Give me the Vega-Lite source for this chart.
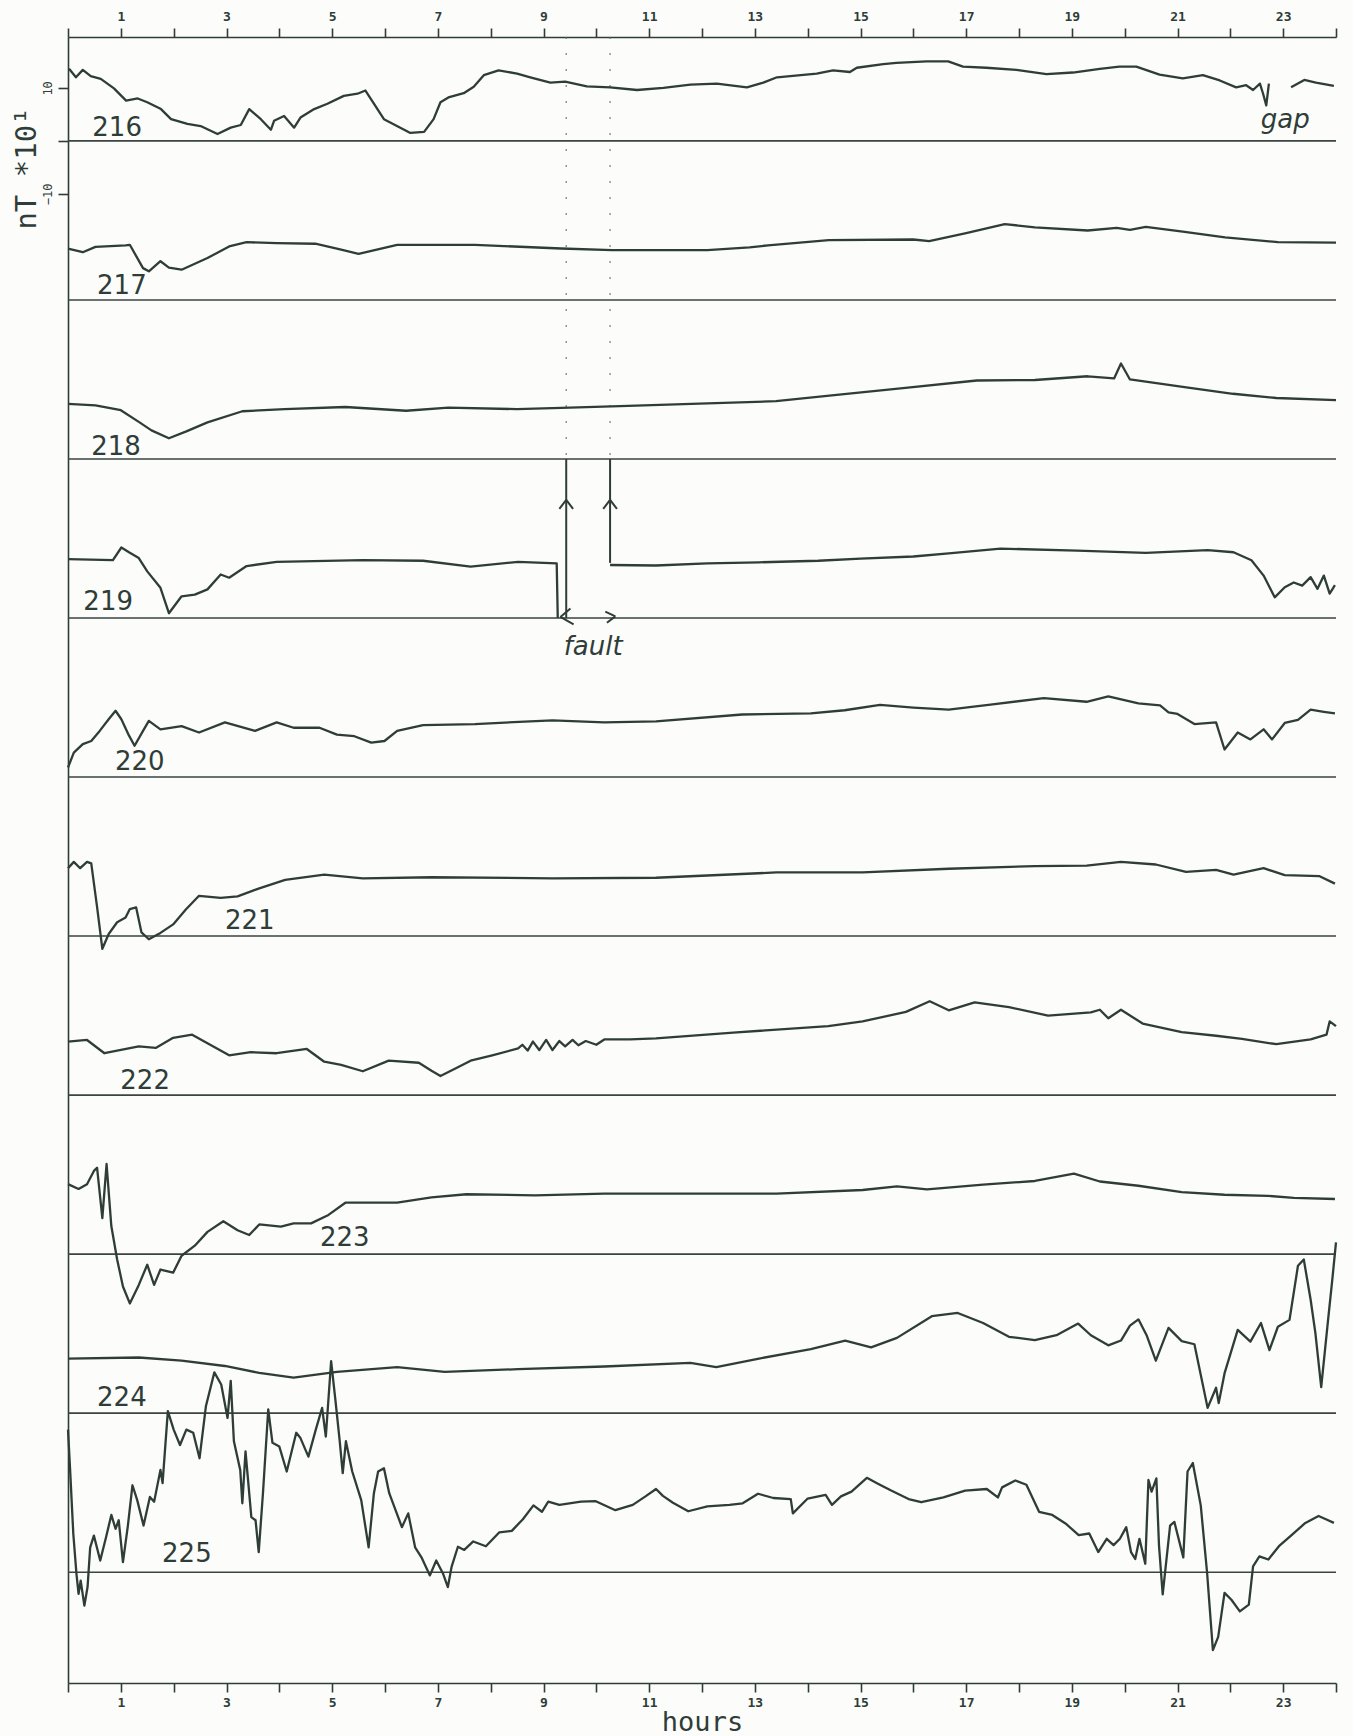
{
  "$schema": "https://vega.github.io/schema/vega-lite/v6.json",
  "autosize": {"type": "none"},
  "padding": {"left": 68, "top": 37, "right": 17, "bottom": 53},
  "width": 1268,
  "height": 1646,
  "background": "#fcfcfa",
  "config": {"view": {"stroke": null}},
  "datasets": {
    "traces": [
      {"s":"216a","h":0.02,"u":13.6},{"s":"216a","h":0.15,"u":12.0},{"s":"216a","h":0.28,"u":13.4},{"s":"216a","h":0.43,"u":12.2},{"s":"216a","h":0.62,"u":11.7},{"s":"216a","h":0.87,"u":9.9},{"s":"216a","h":1.1,"u":7.6},{"s":"216a","h":1.32,"u":8.0},{"s":"216a","h":1.5,"u":7.3},{"s":"216a","h":1.76,"u":6.0},{"s":"216a","h":1.95,"u":4.1},{"s":"216a","h":2.26,"u":3.2},{"s":"216a","h":2.51,"u":2.8},{"s":"216a","h":2.83,"u":1.3},{"s":"216a","h":3.08,"u":2.5},{"s":"216a","h":3.27,"u":3.0},{"s":"216a","h":3.43,"u":6.0},{"s":"216a","h":3.65,"u":4.1},{"s":"216a","h":3.84,"u":2.1},{"s":"216a","h":3.9,"u":3.8},{"s":"216a","h":4.09,"u":4.7},{"s":"216a","h":4.28,"u":2.5},{"s":"216a","h":4.4,"u":4.4},{"s":"216a","h":4.66,"u":6.0},{"s":"216a","h":4.91,"u":7.0},{"s":"216a","h":5.22,"u":8.5},{"s":"216a","h":5.48,"u":8.9},{"s":"216a","h":5.63,"u":9.5},{"s":"216a","h":5.98,"u":4.1},{"s":"216a","h":6.29,"u":2.5},{"s":"216a","h":6.48,"u":1.5},{"s":"216a","h":6.74,"u":1.7},{"s":"216a","h":6.92,"u":4.1},{"s":"216a","h":7.05,"u":7.3},{"s":"216a","h":7.2,"u":8.2},{"s":"216a","h":7.49,"u":9.0},{"s":"216a","h":7.68,"u":10.2},{"s":"216a","h":7.87,"u":12.4},{"s":"216a","h":8.15,"u":13.3},{"s":"216a","h":8.5,"u":12.7},{"s":"216a","h":8.75,"u":12.0},{"s":"216a","h":9.13,"u":11.0},{"s":"216a","h":9.41,"u":11.2},{"s":"216a","h":9.82,"u":10.3},{"s":"216a","h":10.26,"u":10.1},{"s":"216a","h":10.77,"u":9.6},{"s":"216a","h":11.27,"u":10.0},{"s":"216a","h":11.78,"u":10.6},{"s":"216a","h":12.28,"u":10.8},{"s":"216a","h":12.85,"u":10.1},{"s":"216a","h":13.16,"u":11.0},{"s":"216a","h":13.42,"u":12.0},{"s":"216a","h":14.17,"u":12.7},{"s":"216a","h":14.48,"u":13.3},{"s":"216a","h":14.8,"u":13.0},{"s":"216a","h":14.93,"u":13.8},{"s":"216a","h":15.43,"u":14.5},{"s":"216a","h":15.68,"u":14.7},{"s":"216a","h":16.25,"u":15.0},{"s":"216a","h":16.66,"u":15.0},{"s":"216a","h":16.94,"u":14.0},{"s":"216a","h":17.38,"u":13.8},{"s":"216a","h":17.95,"u":13.4},{"s":"216a","h":18.52,"u":12.6},{"s":"216a","h":19.02,"u":12.9},{"s":"216a","h":19.53,"u":13.6},{"s":"216a","h":19.9,"u":14.0},{"s":"216a","h":20.22,"u":14.0},{"s":"216a","h":20.66,"u":12.5},{"s":"216a","h":21.1,"u":11.8},{"s":"216a","h":21.48,"u":12.4},{"s":"216a","h":21.8,"u":11.4},{"s":"216a","h":22.11,"u":10.1},{"s":"216a","h":22.3,"u":10.5},{"s":"216a","h":22.43,"u":9.6},{"s":"216a","h":22.56,"u":10.8},{"s":"216a","h":22.62,"u":8.9},{"s":"216a","h":22.68,"u":6.7},{"s":"216a","h":22.73,"u":10.8},
      {"s":"216b","h":23.15,"u":10.1},{"s":"216b","h":23.4,"u":11.5},{"s":"216b","h":23.62,"u":11.0},{"s":"216b","h":23.96,"u":10.4},
      {"s":"217","h":0,"u":-20.3},{"s":"217","h":0.28,"u":-21.0},{"s":"217","h":0.52,"u":-20.0},{"s":"217","h":1.09,"u":-19.7},{"s":"217","h":1.17,"u":-19.6},{"s":"217","h":1.42,"u":-24.0},{"s":"217","h":1.53,"u":-24.6},{"s":"217","h":1.75,"u":-22.7},{"s":"217","h":1.91,"u":-23.9},{"s":"217","h":2.15,"u":-24.3},{"s":"217","h":2.64,"u":-22.1},{"s":"217","h":3.05,"u":-19.9},{"s":"217","h":3.38,"u":-19.1},{"s":"217","h":3.95,"u":-19.3},{"s":"217","h":4.68,"u":-19.4},{"s":"217","h":5.17,"u":-20.5},{"s":"217","h":5.5,"u":-21.3},{"s":"217","h":6.23,"u":-19.6},{"s":"217","h":7.7,"u":-19.6},{"s":"217","h":9.33,"u":-20.3},{"s":"217","h":10.3,"u":-20.6},{"s":"217","h":12.1,"u":-20.6},{"s":"217","h":12.9,"u":-20.1},{"s":"217","h":13.25,"u":-19.7},{"s":"217","h":14.4,"u":-18.7},{"s":"217","h":16.0,"u":-18.6},{"s":"217","h":16.3,"u":-18.9},{"s":"217","h":17.0,"u":-17.4},{"s":"217","h":17.73,"u":-15.7},{"s":"217","h":18.3,"u":-16.3},{"s":"217","h":19.3,"u":-16.9},{"s":"217","h":19.85,"u":-16.4},{"s":"217","h":20.1,"u":-16.8},{"s":"217","h":20.4,"u":-16.2},{"s":"217","h":21.1,"u":-17.1},{"s":"217","h":21.9,"u":-18.2},{"s":"217","h":22.9,"u":-19.1},{"s":"217","h":24,"u":-19.2},
      {"s":"218","h":0,"u":-49.6},{"s":"218","h":0.52,"u":-49.9},{"s":"218","h":1.0,"u":-50.8},{"s":"218","h":1.34,"u":-53.0},{"s":"218","h":1.58,"u":-54.6},{"s":"218","h":1.91,"u":-56.1},{"s":"218","h":2.24,"u":-54.8},{"s":"218","h":2.64,"u":-53.1},{"s":"218","h":3.3,"u":-51.0},{"s":"218","h":4.1,"u":-50.6},{"s":"218","h":5.25,"u":-50.2},{"s":"218","h":6.4,"u":-50.9},{"s":"218","h":7.2,"u":-50.3},{"s":"218","h":8.5,"u":-50.6},{"s":"218","h":9.5,"u":-50.3},{"s":"218","h":10.6,"u":-50.0},{"s":"218","h":11.8,"u":-49.6},{"s":"218","h":13.4,"u":-49.1},{"s":"218","h":14.55,"u":-47.9},{"s":"218","h":15.85,"u":-46.6},{"s":"218","h":17.2,"u":-45.2},{"s":"218","h":18.3,"u":-45.1},{"s":"218","h":19.3,"u":-44.4},{"s":"218","h":19.8,"u":-44.8},{"s":"218","h":19.93,"u":-42.0},{"s":"218","h":20.1,"u":-45.0},{"s":"218","h":21.1,"u":-46.4},{"s":"218","h":22.05,"u":-47.7},{"s":"218","h":22.87,"u":-48.5},{"s":"218","h":24,"u":-48.9},
      {"s":"219a","h":0,"u":-78.9},{"s":"219a","h":0.85,"u":-79.1},{"s":"219a","h":1.01,"u":-76.7},{"s":"219a","h":1.17,"u":-77.7},{"s":"219a","h":1.34,"u":-78.7},{"s":"219a","h":1.5,"u":-81.2},{"s":"219a","h":1.75,"u":-84.3},{"s":"219a","h":1.91,"u":-89.1},{"s":"219a","h":2.15,"u":-85.9},{"s":"219a","h":2.4,"u":-85.6},{"s":"219a","h":2.64,"u":-84.6},{"s":"219a","h":2.89,"u":-81.8},{"s":"219a","h":3.05,"u":-82.4},{"s":"219a","h":3.38,"u":-80.2},{"s":"219a","h":3.95,"u":-79.4},{"s":"219a","h":5.58,"u":-79.1},{"s":"219a","h":6.72,"u":-79.2},{"s":"219a","h":7.62,"u":-80.3},{"s":"219a","h":8.52,"u":-79.4},{"s":"219a","h":9.25,"u":-79.7},{"s":"219a","h":9.27,"u":-90.0},
      {"s":"219b","h":10.26,"u":-80.0},{"s":"219b","h":11.13,"u":-80.1},{"s":"219b","h":12.1,"u":-79.7},{"s":"219b","h":13.08,"u":-79.5},{"s":"219b","h":14.2,"u":-79.2},{"s":"219b","h":15.0,"u":-78.8},{"s":"219b","h":16.0,"u":-78.4},{"s":"219b","h":16.67,"u":-77.8},{"s":"219b","h":17.65,"u":-76.9},{"s":"219b","h":19.1,"u":-77.3},{"s":"219b","h":20.4,"u":-77.7},{"s":"219b","h":21.57,"u":-77.2},{"s":"219b","h":22.06,"u":-77.6},{"s":"219b","h":22.4,"u":-79.1},{"s":"219b","h":22.63,"u":-82.0},{"s":"219b","h":22.84,"u":-86.1},{"s":"219b","h":23.03,"u":-84.2},{"s":"219b","h":23.2,"u":-83.3},{"s":"219b","h":23.36,"u":-83.9},{"s":"219b","h":23.52,"u":-82.3},{"s":"219b","h":23.65,"u":-84.5},{"s":"219b","h":23.77,"u":-82.0},{"s":"219b","h":23.88,"u":-85.4},{"s":"219b","h":23.98,"u":-83.8},
      {"s":"220","h":0,"u":-118.2},{"s":"220","h":0.11,"u":-115.4},{"s":"220","h":0.28,"u":-113.8},{"s":"220","h":0.44,"u":-113.2},{"s":"220","h":0.6,"u":-111.3},{"s":"220","h":0.77,"u":-109.1},{"s":"220","h":0.9,"u":-107.5},{"s":"220","h":1.01,"u":-109.1},{"s":"220","h":1.14,"u":-111.9},{"s":"220","h":1.26,"u":-114.1},{"s":"220","h":1.42,"u":-111.3},{"s":"220","h":1.53,"u":-109.4},{"s":"220","h":1.75,"u":-111.0},{"s":"220","h":2.15,"u":-110.4},{"s":"220","h":2.48,"u":-111.6},{"s":"220","h":2.97,"u":-109.7},{"s":"220","h":3.54,"u":-111.3},{"s":"220","h":3.95,"u":-109.7},{"s":"220","h":4.27,"u":-110.7},{"s":"220","h":4.76,"u":-110.7},{"s":"220","h":5.09,"u":-112.0},{"s":"220","h":5.42,"u":-112.3},{"s":"220","h":5.74,"u":-113.5},{"s":"220","h":5.99,"u":-113.2},{"s":"220","h":6.23,"u":-111.3},{"s":"220","h":6.72,"u":-110.2},{"s":"220","h":7.7,"u":-110.0},{"s":"220","h":9.17,"u":-109.3},{"s":"220","h":10.15,"u":-109.7},{"s":"220","h":11.13,"u":-109.5},{"s":"220","h":12.76,"u":-108.2},{"s":"220","h":14.06,"u":-108.0},{"s":"220","h":14.7,"u":-107.4},{"s":"220","h":15.37,"u":-106.4},{"s":"220","h":16.0,"u":-106.9},{"s":"220","h":16.67,"u":-107.3},{"s":"220","h":17.5,"u":-106.3},{"s":"220","h":18.47,"u":-105.1},{"s":"220","h":19.28,"u":-105.8},{"s":"220","h":19.69,"u":-104.8},{"s":"220","h":20.26,"u":-106.1},{"s":"220","h":20.67,"u":-106.5},{"s":"220","h":20.83,"u":-107.8},{"s":"220","h":21.0,"u":-108.1},{"s":"220","h":21.32,"u":-110.0},{"s":"220","h":21.73,"u":-109.7},{"s":"220","h":21.89,"u":-114.8},{"s":"220","h":22.14,"u":-111.6},{"s":"220","h":22.38,"u":-112.9},{"s":"220","h":22.63,"u":-111.0},{"s":"220","h":22.79,"u":-112.9},{"s":"220","h":23.03,"u":-109.8},{"s":"220","h":23.28,"u":-109.2},{"s":"220","h":23.52,"u":-107.3},{"s":"220","h":23.77,"u":-107.7},{"s":"220","h":23.98,"u":-108.0},
      {"s":"221","h":0,"u":-137.2},{"s":"221","h":0.11,"u":-136.0},{"s":"221","h":0.23,"u":-137.2},{"s":"221","h":0.36,"u":-136.0},{"s":"221","h":0.44,"u":-136.3},{"s":"221","h":0.55,"u":-144.5},{"s":"221","h":0.65,"u":-152.4},{"s":"221","h":0.77,"u":-149.6},{"s":"221","h":0.93,"u":-147.4},{"s":"221","h":1.09,"u":-146.5},{"s":"221","h":1.17,"u":-144.9},{"s":"221","h":1.29,"u":-144.6},{"s":"221","h":1.39,"u":-149.3},{"s":"221","h":1.53,"u":-150.6},{"s":"221","h":1.75,"u":-149.4},{"s":"221","h":1.99,"u":-147.8},{"s":"221","h":2.23,"u":-145.0},{"s":"221","h":2.48,"u":-142.4},{"s":"221","h":2.89,"u":-142.8},{"s":"221","h":3.21,"u":-142.5},{"s":"221","h":3.62,"u":-141.0},{"s":"221","h":4.11,"u":-139.4},{"s":"221","h":4.85,"u":-138.4},{"s":"221","h":5.58,"u":-139.1},{"s":"221","h":6.88,"u":-138.9},{"s":"221","h":9.17,"u":-139.1},{"s":"221","h":11.13,"u":-139.0},{"s":"221","h":13.41,"u":-138.0},{"s":"221","h":15.04,"u":-138.0},{"s":"221","h":16.67,"u":-137.3},{"s":"221","h":18.3,"u":-136.8},{"s":"221","h":19.28,"u":-136.7},{"s":"221","h":19.93,"u":-136.0},{"s":"221","h":20.59,"u":-136.5},{"s":"221","h":21.16,"u":-137.9},{"s":"221","h":21.73,"u":-137.5},{"s":"221","h":22.06,"u":-138.4},{"s":"221","h":22.63,"u":-137.2},{"s":"221","h":23.03,"u":-138.5},{"s":"221","h":23.69,"u":-138.7},{"s":"221","h":23.98,"u":-140.1},
      {"s":"222","h":0,"u":-169.9},{"s":"222","h":0.36,"u":-169.6},{"s":"222","h":0.69,"u":-172.1},{"s":"222","h":1.34,"u":-170.8},{"s":"222","h":1.66,"u":-171.1},{"s":"222","h":1.99,"u":-169.2},{"s":"222","h":2.35,"u":-168.6},{"s":"222","h":2.64,"u":-170.2},{"s":"222","h":3.05,"u":-172.5},{"s":"222","h":3.46,"u":-171.9},{"s":"222","h":3.95,"u":-172.1},{"s":"222","h":4.52,"u":-171.3},{"s":"222","h":4.85,"u":-173.7},{"s":"222","h":5.17,"u":-174.3},{"s":"222","h":5.58,"u":-175.5},{"s":"222","h":6.07,"u":-173.5},{"s":"222","h":6.64,"u":-173.9},{"s":"222","h":6.88,"u":-175.4},{"s":"222","h":7.05,"u":-176.4},{"s":"222","h":7.37,"u":-174.8},{"s":"222","h":7.62,"u":-173.5},{"s":"222","h":8.03,"u":-172.5},{"s":"222","h":8.52,"u":-171.2},{"s":"222","h":8.6,"u":-170.5},{"s":"222","h":8.7,"u":-171.6},{"s":"222","h":8.8,"u":-169.9},{"s":"222","h":8.92,"u":-171.5},{"s":"222","h":9.05,"u":-169.6},{"s":"222","h":9.17,"u":-171.5},{"s":"222","h":9.3,"u":-169.8},{"s":"222","h":9.41,"u":-170.8},{"s":"222","h":9.55,"u":-169.6},{"s":"222","h":9.66,"u":-170.6},{"s":"222","h":9.8,"u":-169.8},{"s":"222","h":10.0,"u":-170.5},{"s":"222","h":10.15,"u":-169.5},{"s":"222","h":10.64,"u":-169.5},{"s":"222","h":11.13,"u":-169.3},{"s":"222","h":12.59,"u":-168.2},{"s":"222","h":14.39,"u":-167.0},{"s":"222","h":15.04,"u":-166.1},{"s":"222","h":15.86,"u":-164.3},{"s":"222","h":16.31,"u":-162.3},{"s":"222","h":16.67,"u":-164.0},{"s":"222","h":17.16,"u":-162.5},{"s":"222","h":17.81,"u":-163.4},{"s":"222","h":18.55,"u":-165.0},{"s":"222","h":19.36,"u":-164.4},{"s":"222","h":19.53,"u":-163.9},{"s":"222","h":19.69,"u":-165.5},{"s":"222","h":19.93,"u":-163.9},{"s":"222","h":20.34,"u":-166.5},{"s":"222","h":21.08,"u":-168.1},{"s":"222","h":21.73,"u":-168.8},{"s":"222","h":22.22,"u":-169.4},{"s":"222","h":22.87,"u":-170.4},{"s":"222","h":23.52,"u":-169.5},{"s":"222","h":23.82,"u":-168.6},{"s":"222","h":23.88,"u":-166.1},{"s":"222","h":24.0,"u":-167.0},
      {"s":"223","h":0,"u":-196.8},{"s":"223","h":0.2,"u":-197.7},{"s":"223","h":0.36,"u":-196.8},{"s":"223","h":0.49,"u":-194.3},{"s":"223","h":0.55,"u":-193.7},{"s":"223","h":0.65,"u":-203.2},{"s":"223","h":0.73,"u":-193.0},{"s":"223","h":0.82,"u":-204.7},{"s":"223","h":0.93,"u":-211.0},{"s":"223","h":1.04,"u":-216.1},{"s":"223","h":1.17,"u":-219.3},{"s":"223","h":1.34,"u":-215.8},{"s":"223","h":1.5,"u":-212.0},{"s":"223","h":1.63,"u":-215.8},{"s":"223","h":1.75,"u":-212.9},{"s":"223","h":1.99,"u":-213.5},{"s":"223","h":2.15,"u":-210.3},{"s":"223","h":2.4,"u":-208.4},{"s":"223","h":2.64,"u":-205.8},{"s":"223","h":2.94,"u":-203.8},{"s":"223","h":3.21,"u":-205.5},{"s":"223","h":3.43,"u":-206.4},{"s":"223","h":3.62,"u":-204.4},{"s":"223","h":4.03,"u":-204.8},{"s":"223","h":4.27,"u":-204.2},{"s":"223","h":4.6,"u":-204.2},{"s":"223","h":4.93,"u":-202.6},{"s":"223","h":5.25,"u":-200.3},{"s":"223","h":6.23,"u":-200.3},{"s":"223","h":6.88,"u":-199.3},{"s":"223","h":7.54,"u":-198.7},{"s":"223","h":8.84,"u":-198.9},{"s":"223","h":10.15,"u":-198.6},{"s":"223","h":11.78,"u":-198.6},{"s":"223","h":13.41,"u":-198.6},{"s":"223","h":15.04,"u":-197.9},{"s":"223","h":15.69,"u":-197.2},{"s":"223","h":16.26,"u":-197.8},{"s":"223","h":17.32,"u":-196.9},{"s":"223","h":18.3,"u":-196.2},{"s":"223","h":19.04,"u":-194.8},{"s":"223","h":19.53,"u":-196.3},{"s":"223","h":20.26,"u":-197.1},{"s":"223","h":21.08,"u":-198.3},{"s":"223","h":21.89,"u":-198.8},{"s":"223","h":22.71,"u":-199.0},{"s":"223","h":23.2,"u":-199.4},{"s":"223","h":23.98,"u":-199.6},
      {"s":"224","h":0,"u":-229.7},{"s":"224","h":1.34,"u":-229.5},{"s":"224","h":2.15,"u":-230.1},{"s":"224","h":2.97,"u":-231.1},{"s":"224","h":3.62,"u":-232.4},{"s":"224","h":4.27,"u":-233.3},{"s":"224","h":5.09,"u":-232.2},{"s":"224","h":6.23,"u":-231.3},{"s":"224","h":7.13,"u":-232.2},{"s":"224","h":8.52,"u":-231.7},{"s":"224","h":10.15,"u":-231.2},{"s":"224","h":11.78,"u":-230.5},{"s":"224","h":12.27,"u":-231.3},{"s":"224","h":13.08,"u":-229.7},{"s":"224","h":14.06,"u":-227.9},{"s":"224","h":14.71,"u":-226.3},{"s":"224","h":15.2,"u":-227.6},{"s":"224","h":15.69,"u":-225.8},{"s":"224","h":16.35,"u":-221.7},{"s":"224","h":16.84,"u":-221.1},{"s":"224","h":17.32,"u":-223.0},{"s":"224","h":17.81,"u":-225.6},{"s":"224","h":18.3,"u":-226.2},{"s":"224","h":18.71,"u":-225.3},{"s":"224","h":19.12,"u":-223.1},{"s":"224","h":19.36,"u":-225.3},{"s":"224","h":19.69,"u":-227.2},{"s":"224","h":19.93,"u":-226.3},{"s":"224","h":20.1,"u":-223.5},{"s":"224","h":20.26,"u":-222.3},{"s":"224","h":20.42,"u":-225.4},{"s":"224","h":20.59,"u":-230.1},{"s":"224","h":20.83,"u":-223.9},{"s":"224","h":21.08,"u":-226.4},{"s":"224","h":21.32,"u":-227.0},{"s":"224","h":21.57,"u":-239.0},{"s":"224","h":21.73,"u":-235.2},{"s":"224","h":21.78,"u":-238.1},{"s":"224","h":21.89,"u":-232.5},{"s":"224","h":22.14,"u":-224.3},{"s":"224","h":22.38,"u":-226.5},{"s":"224","h":22.58,"u":-223.0},{"s":"224","h":22.74,"u":-228.1},{"s":"224","h":22.9,"u":-223.7},{"s":"224","h":23.12,"u":-222.4},{"s":"224","h":23.28,"u":-212.2},{"s":"224","h":23.39,"u":-211.0},{"s":"224","h":23.52,"u":-218.6},{"s":"224","h":23.61,"u":-224.9},{"s":"224","h":23.72,"u":-235.1},{"s":"224","h":23.85,"u":-222.4},{"s":"224","h":23.93,"u":-214.8},{"s":"224","h":24.0,"u":-207.8},
      {"s":"225","h":0,"u":-243.1},{"s":"225","h":0.04,"u":-250.7},{"s":"225","h":0.1,"u":-262.7},{"s":"225","h":0.16,"u":-270.3},{"s":"225","h":0.2,"u":-274.1},{"s":"225","h":0.24,"u":-271.6},{"s":"225","h":0.31,"u":-276.3},{"s":"225","h":0.37,"u":-272.8},{"s":"225","h":0.42,"u":-265.3},{"s":"225","h":0.49,"u":-263.1},{"s":"225","h":0.61,"u":-267.8},{"s":"225","h":0.72,"u":-263.4},{"s":"225","h":0.82,"u":-259.2},{"s":"225","h":0.9,"u":-261.8},{"s":"225","h":0.96,"u":-260.2},{"s":"225","h":1.04,"u":-268.1},{"s":"225","h":1.13,"u":-261.5},{"s":"225","h":1.22,"u":-253.6},{"s":"225","h":1.31,"u":-256.4},{"s":"225","h":1.43,"u":-261.2},{"s":"225","h":1.55,"u":-255.8},{"s":"225","h":1.63,"u":-256.7},{"s":"225","h":1.75,"u":-250.7},{"s":"225","h":1.79,"u":-253.2},{"s":"225","h":1.89,"u":-239.6},{"s":"225","h":2.0,"u":-243.1},{"s":"225","h":2.12,"u":-246.0},{"s":"225","h":2.24,"u":-243.1},{"s":"225","h":2.37,"u":-243.7},{"s":"225","h":2.49,"u":-248.5},{"s":"225","h":2.61,"u":-238.7},{"s":"225","h":2.77,"u":-232.3},{"s":"225","h":2.9,"u":-234.6},{"s":"225","h":3.02,"u":-240.9},{"s":"225","h":3.08,"u":-233.9},{"s":"225","h":3.14,"u":-245.3},{"s":"225","h":3.26,"u":-250.7},{"s":"225","h":3.3,"u":-257.0},{"s":"225","h":3.36,"u":-247.2},{"s":"225","h":3.47,"u":-259.6},{"s":"225","h":3.55,"u":-260.2},{"s":"225","h":3.61,"u":-266.2},{"s":"225","h":3.69,"u":-255.1},{"s":"225","h":3.79,"u":-239.3},{"s":"225","h":3.87,"u":-245.6},{"s":"225","h":4.0,"u":-246.3},{"s":"225","h":4.14,"u":-251.0},{"s":"225","h":4.32,"u":-243.7},{"s":"225","h":4.4,"u":-244.7},{"s":"225","h":4.55,"u":-248.2},{"s":"225","h":4.69,"u":-243.1},{"s":"225","h":4.81,"u":-239.0},{"s":"225","h":4.88,"u":-244.4},{"s":"225","h":4.98,"u":-230.2},{"s":"225","h":5.06,"u":-237.4},{"s":"225","h":5.14,"u":-245.0},{"s":"225","h":5.2,"u":-251.3},{"s":"225","h":5.26,"u":-245.3},{"s":"225","h":5.38,"u":-251.0},{"s":"225","h":5.55,"u":-256.4},{"s":"225","h":5.69,"u":-265.3},{"s":"225","h":5.79,"u":-255.1},{"s":"225","h":5.87,"u":-251.0},{"s":"225","h":5.98,"u":-250.4},{"s":"225","h":6.08,"u":-255.1},{"s":"225","h":6.2,"u":-258.3},{"s":"225","h":6.32,"u":-261.5},{"s":"225","h":6.44,"u":-258.9},{"s":"225","h":6.57,"u":-265.3},{"s":"225","h":6.69,"u":-267.2},{"s":"225","h":6.85,"u":-270.6},{"s":"225","h":6.97,"u":-267.8},{"s":"225","h":7.1,"u":-270.3},{"s":"225","h":7.19,"u":-272.8},{"s":"225","h":7.26,"u":-269.0},{"s":"225","h":7.38,"u":-265.2},{"s":"225","h":7.5,"u":-265.8},{"s":"225","h":7.67,"u":-264.2},{"s":"225","h":7.91,"u":-265.1},{"s":"225","h":8.16,"u":-262.5},{"s":"225","h":8.4,"u":-262.2},{"s":"225","h":8.61,"u":-260.0},{"s":"225","h":8.81,"u":-257.4},{"s":"225","h":8.97,"u":-258.6},{"s":"225","h":9.09,"u":-256.7},{"s":"225","h":9.3,"u":-257.3},{"s":"225","h":9.71,"u":-256.7},{"s":"225","h":9.99,"u":-256.6},{"s":"225","h":10.36,"u":-258.3},{"s":"225","h":10.69,"u":-257.3},{"s":"225","h":10.93,"u":-255.7},{"s":"225","h":11.13,"u":-254.3},{"s":"225","h":11.26,"u":-255.6},{"s":"225","h":11.45,"u":-256.9},{"s":"225","h":11.74,"u":-258.5},{"s":"225","h":12.1,"u":-257.6},{"s":"225","h":12.52,"u":-257.3},{"s":"225","h":12.77,"u":-257.0},{"s":"225","h":13.06,"u":-255.2},{"s":"225","h":13.35,"u":-256.0},{"s":"225","h":13.68,"u":-256.2},{"s":"225","h":13.72,"u":-258.9},{"s":"225","h":14.0,"u":-256.1},{"s":"225","h":14.34,"u":-255.4},{"s":"225","h":14.46,"u":-257.3},{"s":"225","h":14.63,"u":-255.7},{"s":"225","h":14.83,"u":-254.8},{"s":"225","h":15.12,"u":-252.2},{"s":"225","h":15.33,"u":-253.3},{"s":"225","h":15.58,"u":-254.6},{"s":"225","h":15.91,"u":-256.2},{"s":"225","h":16.15,"u":-256.8},{"s":"225","h":16.57,"u":-255.9},{"s":"225","h":16.98,"u":-254.6},{"s":"225","h":17.39,"u":-254.3},{"s":"225","h":17.6,"u":-255.9},{"s":"225","h":17.68,"u":-254.0},{"s":"225","h":17.93,"u":-252.7},{"s":"225","h":18.14,"u":-253.5},{"s":"225","h":18.38,"u":-258.6},{"s":"225","h":18.63,"u":-259.2},{"s":"225","h":18.88,"u":-260.8},{"s":"225","h":19.13,"u":-263.0},{"s":"225","h":19.33,"u":-262.7},{"s":"225","h":19.5,"u":-266.2},{"s":"225","h":19.66,"u":-263.7},{"s":"225","h":19.79,"u":-264.9},{"s":"225","h":19.91,"u":-263.7},{"s":"225","h":20.03,"u":-261.5},{"s":"225","h":20.12,"u":-266.2},{"s":"225","h":20.2,"u":-267.5},{"s":"225","h":20.28,"u":-263.7},{"s":"225","h":20.39,"u":-268.4},{"s":"225","h":20.45,"u":-252.6},{"s":"225","h":20.51,"u":-254.8},{"s":"225","h":20.6,"u":-252.3},{"s":"225","h":20.65,"u":-265.0},{"s":"225","h":20.72,"u":-274.2},{"s":"225","h":20.86,"u":-261.2},{"s":"225","h":20.94,"u":-260.5},{"s":"225","h":21.11,"u":-267.2},{"s":"225","h":21.19,"u":-251.0},{"s":"225","h":21.29,"u":-249.4},{"s":"225","h":21.44,"u":-257.4},{"s":"225","h":21.56,"u":-270.1},{"s":"225","h":21.67,"u":-284.7},{"s":"225","h":21.77,"u":-282.2},{"s":"225","h":21.89,"u":-273.9},{"s":"225","h":22.02,"u":-275.2},{"s":"225","h":22.18,"u":-277.4},{"s":"225","h":22.35,"u":-276.1},{"s":"225","h":22.43,"u":-268.9},{"s":"225","h":22.55,"u":-267.0},{"s":"225","h":22.72,"u":-267.6},{"s":"225","h":22.92,"u":-265.1},{"s":"225","h":23.17,"u":-262.9},{"s":"225","h":23.42,"u":-260.7},{"s":"225","h":23.67,"u":-259.4},{"s":"225","h":23.83,"u":-260.1},{"s":"225","h":23.96,"u":-260.7}
    ],
    "baselines": [
      {"station":"216","u":0},{"station":"217","u":-30},{"station":"218","u":-60},{"station":"219","u":-90},{"station":"220","u":-120},
      {"station":"221","u":-150},{"station":"222","u":-180},{"station":"223","u":-210},{"station":"224","u":-240},{"station":"225","u":-270}
    ],
    "marks": [
      {"h":9.43,"u":-60,"h2":9.43,"u2":-90},
      {"h":10.26,"u":-60,"h2":10.26,"u2":-79.6},
      {"h":9.3,"u":-69.4,"h2":9.43,"u2":-67.7},
      {"h":9.56,"u":-69.4,"h2":9.43,"u2":-67.7},
      {"h":10.13,"u":-69.4,"h2":10.26,"u2":-67.7},
      {"h":10.39,"u":-69.4,"h2":10.26,"u2":-67.7},
      {"h":9.32,"u":-89.8,"h2":9.51,"u2":-88.2},
      {"h":9.32,"u":-89.8,"h2":9.57,"u2":-91.2},
      {"h":10.36,"u":-89.7,"h2":10.17,"u2":-88.8},
      {"h":10.36,"u":-89.7,"h2":10.2,"u2":-90.9}
    ],
    "dotted": [
      {"h":9.43,"u":19.6,"u2":-60},
      {"h":10.26,"u":19.6,"u2":-60}
    ],
    "numbers": [
      {"t":"216","h":0.93,"u":2.45},{"t":"217","h":1.02,"u":-27.4},{"t":"218","h":0.91,"u":-57.7},{"t":"219","h":0.76,"u":-87.0},
      {"t":"220","h":1.36,"u":-117.2},{"t":"221","h":3.44,"u":-147.2},{"t":"222","h":1.46,"u":-177.4},{"t":"223","h":5.24,"u":-207.0},
      {"t":"224","h":1.02,"u":-237.2},{"t":"225","h":2.25,"u":-266.6}
    ],
    "words": [
      {"t":"gap","h":23.04,"u":3.96},
      {"t":"fault","h":9.94,"u":-95.5}
    ]
  },
  "resolve": {"axis": {"x": "independent"}},
  "layer": [
    {
      "data": {"name": "baselines"},
      "mark": {"type": "rule", "color": "#3a4541", "strokeWidth": 1.6},
      "encoding": {
        "y": {
          "field": "u", "type": "quantitative",
          "scale": {"domain": [-290.9, 19.6], "nice": false, "zero": false},
          "axis": {
            "orient": "left", "values": [10, 0, -10],
            "labelExpr": "datum.value == 0 ? '' : datum.label",
            "labelAngle": -90, "labelAlign": "center", "labelBaseline": "bottom",
            "tickSize": 10, "tickWidth": 1.6, "tickColor": "#2f3d38", "domain": true, "domainColor": "#2f3d38", "domainWidth": 1.6,
            "labelFont": "DejaVu Sans Mono", "labelFontSize": 12, "labelColor": "#2f3d38", "labelPadding": 4,
            "grid": false,
            "title": "nT  *10¹", "titleFont": "DejaVu Sans Mono", "titleFontSize": 29, "titleFontWeight": "normal",
            "titleColor": "#2f3d38", "titleAngle": -90, "titleX": -42, "titleY": 131, "titleAlign": "center", "titleBaseline": "middle"
          }
        }
      }
    },
    {
      "data": {"name": "dotted"},
      "mark": {"type": "rule", "color": "#5a625f", "strokeWidth": 1.4, "strokeDash": [2, 14], "opacity": 0.7},
      "encoding": {
        "x": {"field": "h", "type": "quantitative", "axis": null},
        "y": {"field": "u", "type": "quantitative"},
        "y2": {"field": "u2"}
      }
    },
    {
      "data": {"name": "traces"},
      "mark": {"type": "line", "color": "#2f3d38", "strokeWidth": 2.3, "strokeJoin": "round"},
      "encoding": {
        "x": {
          "field": "h", "type": "quantitative",
          "scale": {"domain": [0, 24], "nice": false, "zero": false},
          "axis": {
            "orient": "top", "title": null, "values": [0,1,2,3,4,5,6,7,8,9,10,11,12,13,14,15,16,17,18,19,20,21,22,23,24],
            "labelExpr": "datum.value % 2 == 1 ? datum.label : ''",
            "tickSize": 9, "tickWidth": 1.6, "tickColor": "#2f3d38", "domainColor": "#2f3d38", "domainWidth": 1.6,
            "labelFont": "DejaVu Sans Mono", "labelFontSize": 13, "labelFontWeight": "bold", "labelColor": "#2f3d38",
            "labelPadding": 5, "grid": false, "labelFlush": false
          }
        },
        "y": {"field": "u", "type": "quantitative"},
        "detail": {"field": "s", "type": "nominal"},
        "order": {"field": "h", "type": "quantitative"}
      }
    },
    {
      "data": {"name": "marks"},
      "mark": {"type": "rule", "color": "#2f3d38", "strokeWidth": 2},
      "encoding": {
        "x": {
          "field": "h", "type": "quantitative",
          "axis": {
            "orient": "bottom", "title": "hours", "values": [0,1,2,3,4,5,6,7,8,9,10,11,12,13,14,15,16,17,18,19,20,21,22,23,24],
            "labelExpr": "datum.value % 2 == 1 ? datum.label : ''",
            "tickSize": 9, "tickWidth": 1.6, "tickColor": "#2f3d38", "domainColor": "#2f3d38", "domainWidth": 1.6,
            "labelFont": "DejaVu Sans Mono", "labelFontSize": 13, "labelFontWeight": "bold", "labelColor": "#2f3d38",
            "labelPadding": 4, "grid": false, "labelFlush": false,
            "titleFont": "DejaVu Sans Mono", "titleFontSize": 27, "titleFontWeight": "normal", "titleColor": "#2f3d38",
            "titlePadding": 0
          }
        },
        "x2": {"field": "h2"},
        "y": {"field": "u", "type": "quantitative"},
        "y2": {"field": "u2"}
      }
    },
    {
      "data": {"name": "numbers"},
      "mark": {"type": "text", "font": "DejaVu Sans", "fontSize": 26, "color": "#2f3d38", "align": "center", "baseline": "middle"},
      "encoding": {
        "x": {"field": "h", "type": "quantitative", "axis": null},
        "y": {"field": "u", "type": "quantitative"},
        "text": {"field": "t"}
      }
    },
    {
      "data": {"name": "words"},
      "mark": {"type": "text", "font": "DejaVu Sans", "fontSize": 26, "fontStyle": "italic", "color": "#2f3d38", "align": "center", "baseline": "middle"},
      "encoding": {
        "x": {"field": "h", "type": "quantitative", "axis": null},
        "y": {"field": "u", "type": "quantitative"},
        "text": {"field": "t"}
      }
    }
  ]
}
